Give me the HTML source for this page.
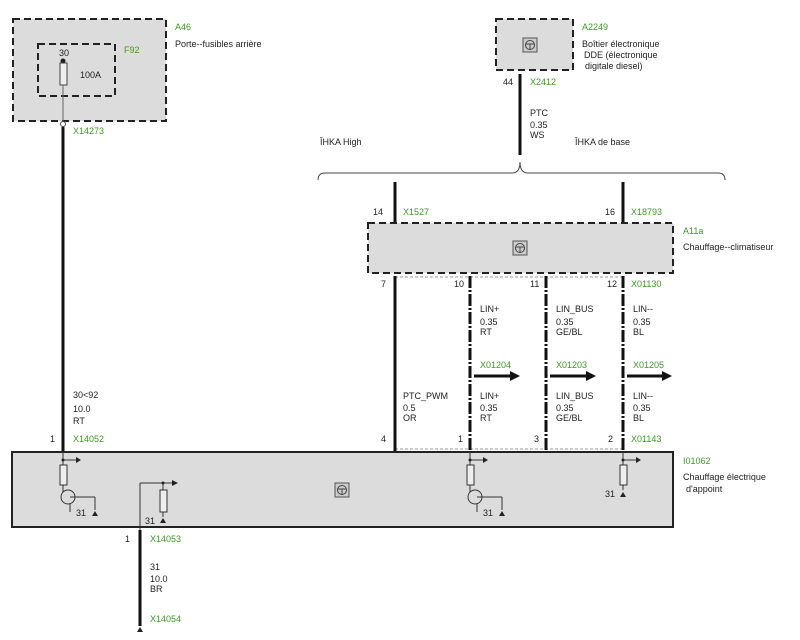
<!DOCTYPE html>
<html><head><meta charset="utf-8"><style>body{margin:0;background:#fff}svg{display:block}text{font-family:"Liberation Sans",sans-serif;font-size:9px;fill:#222}.g{fill:#3c9a22}</style></head><body>
<svg width="800" height="640" viewBox="0 0 800 640" xmlns="http://www.w3.org/2000/svg">
<defs>
<g id="ic"><rect x="-7" y="-7" width="14" height="14" fill="#ccc" stroke="#555" stroke-width="1"/><circle r="4.5" fill="none" stroke="#444"/><path d="M-4 -1 L4 -1 M0 -1 L0 4" stroke="#444" fill="none"/></g>
<g id="gnd"><path d="M-3 0 L3 0 L0 -5 Z" fill="#222"/></g>
</defs>
<!-- A46 -->
<rect x="13" y="19" width="153" height="102" fill="#dcdcdc" stroke="#222" stroke-width="2" stroke-dasharray="7,4"/>
<rect x="38" y="44" width="77" height="52" fill="none" stroke="#222" stroke-width="2" stroke-dasharray="7,4"/>
<circle cx="63" cy="61" r="2.5" fill="#222"/>
<rect x="60" y="63" width="7" height="22" fill="#eee" stroke="#444"/>
<line x1="63" y1="85" x2="63" y2="123" stroke="#666"/>
<circle cx="63" cy="124" r="2.5" fill="#fff" stroke="#444"/>
<text x="59" y="56">30</text><text x="80" y="78">100A</text>
<text x="124" y="53" class="g">F92</text>
<text x="175" y="30" class="g">A46</text><text x="175" y="47">Porte--fusibles arrière</text>
<line x1="63" y1="127" x2="63" y2="452" stroke="#111" stroke-width="3"/>
<text x="73" y="134" class="g">X14273</text>
<text x="73" y="398">30&lt;92</text><text x="73" y="412">10.0</text><text x="73" y="424">RT</text>
<text x="50" y="442">1</text><text x="73" y="442" class="g">X14052</text>
<!-- A2249 -->
<rect x="496" y="19" width="77" height="51" fill="#dcdcdc" stroke="#222" stroke-width="2" stroke-dasharray="7,4"/>
<use href="#ic" x="530" y="45"/>
<text x="582" y="30" class="g">A2249</text><text x="582" y="47">Boîtier électronique</text><text x="584" y="58">DDE (électronique</text><text x="585" y="69">digitale diesel)</text>
<line x1="520" y1="74" x2="520" y2="155" stroke="#111" stroke-width="3"/>
<text x="503" y="85">44</text><text x="530" y="85" class="g">X2412</text>
<text x="530" y="116">PTC</text><text x="530" y="128">0.35</text><text x="530" y="138">WS</text>
<text x="320" y="145">ÎHKA High</text><text x="575" y="145">ÎHKA de base</text>
<path d="M318 180 Q318 173 325 173 L512 173 Q520 173 520 162 Q520 173 528 173 L718 173 Q725 173 725 180" fill="none" stroke="#444"/>
<!-- A11a -->
<line x1="395" y1="182" x2="395" y2="223" stroke="#111" stroke-width="3"/>
<line x1="623" y1="182" x2="623" y2="223" stroke="#111" stroke-width="3"/>
<text x="373" y="215">14</text><text x="403" y="215" class="g">X1527</text>
<text x="605" y="215">16</text><text x="631" y="215" class="g">X18793</text>
<rect x="368" y="223" width="305" height="50" fill="#dcdcdc" stroke="#222" stroke-width="2" stroke-dasharray="7,4"/>
<use href="#ic" x="520" y="248"/>
<text x="683" y="234" class="g">A11a</text><text x="683" y="250">Chauffage--climatiseur</text>
<line x1="395" y1="277" x2="623" y2="277" stroke="#999" stroke-dasharray="3,2"/>
<line x1="395" y1="449" x2="623" y2="449" stroke="#999" stroke-dasharray="3,2"/>
<line x1="395" y1="276" x2="395" y2="451" stroke="#111" stroke-width="3"/>
<g stroke="#111" stroke-width="3" stroke-dasharray="12,2,2,2">
<line x1="470" y1="276" x2="470" y2="451"/><line x1="546" y1="276" x2="546" y2="451"/><line x1="623" y1="276" x2="623" y2="451"/></g>
<text x="381" y="287">7</text><text x="454" y="287">10</text><text x="530" y="287">11</text><text x="607" y="287">12</text><text x="631" y="287" class="g">X01130</text>
<text x="480" y="312">LIN+</text><text x="480" y="325">0.35</text><text x="480" y="335">RT</text>
<text x="556" y="312">LIN_BUS</text><text x="556" y="325">0.35</text><text x="556" y="335">GE/BL</text>
<text x="633" y="312">LIN--</text><text x="633" y="325">0.35</text><text x="633" y="335">BL</text>
<text x="480" y="368" class="g">X01204</text><text x="556" y="368" class="g">X01203</text><text x="633" y="368" class="g">X01205</text>
<g stroke="#111" stroke-width="3"><line x1="474" y1="376" x2="512" y2="376"/><line x1="550" y1="376" x2="588" y2="376"/><line x1="627" y1="376" x2="664" y2="376"/></g>
<g fill="#111"><path d="M510 371 L520 376 L510 381Z"/><path d="M586 371 L596 376 L586 381Z"/><path d="M662 371 L672 376 L662 381Z"/></g>
<text x="403" y="399">PTC_PWM</text><text x="403" y="411">0.5</text><text x="403" y="421">OR</text>
<text x="480" y="399">LIN+</text><text x="480" y="411">0.35</text><text x="480" y="421">RT</text>
<text x="556" y="399">LIN_BUS</text><text x="556" y="411">0.35</text><text x="556" y="421">GE/BL</text>
<text x="633" y="399">LIN--</text><text x="633" y="411">0.35</text><text x="633" y="421">BL</text>
<text x="381" y="442">4</text><text x="458" y="442">1</text><text x="534" y="442">3</text><text x="608" y="442">2</text><text x="631" y="442" class="g">X01143</text>
<!-- main box -->
<rect x="12" y="452" width="661" height="75" fill="#dcdcdc" stroke="#222" stroke-width="2"/>
<use href="#ic" x="342" y="490"/>
<text x="683" y="464" class="g">I01062</text><text x="683" y="480">Chauffage électrique</text><text x="686" y="492">d'appoint</text>
<g stroke="#333" fill="none">
<line x1="63" y1="452" x2="63" y2="465"/><line x1="63" y1="460" x2="76" y2="460"/>
<rect x="60" y="465" width="7" height="20" fill="#eee"/><line x1="63" y1="485" x2="63" y2="492"/>
<circle cx="68" cy="497" r="7"/><line x1="70" y1="497" x2="95" y2="497"/><line x1="95" y1="497" x2="95" y2="510"/><line x1="70" y1="504" x2="70" y2="512"/>
<line x1="140" y1="530" x2="140" y2="483"/><line x1="140" y1="483" x2="172" y2="483"/>
<line x1="163" y1="483" x2="163" y2="490"/><rect x="160" y="490" width="7" height="22" fill="#eee"/><line x1="163" y1="512" x2="163" y2="517"/>
<line x1="470" y1="452" x2="470" y2="465"/><line x1="470" y1="460" x2="483" y2="460"/>
<rect x="467" y="465" width="7" height="20" fill="#eee"/><line x1="470" y1="485" x2="470" y2="492"/>
<circle cx="475" cy="497" r="7"/><line x1="477" y1="497" x2="502" y2="497"/><line x1="502" y1="497" x2="502" y2="510"/><line x1="477" y1="504" x2="477" y2="512"/>
<line x1="623" y1="452" x2="623" y2="465"/><line x1="623" y1="460" x2="636" y2="460"/>
<rect x="620" y="465" width="7" height="20" fill="#eee"/><line x1="623" y1="485" x2="623" y2="490"/>
</g>
<g fill="#222"><circle cx="63" cy="460" r="1.5"/><circle cx="163" cy="483" r="1.5"/><circle cx="470" cy="460" r="1.5"/><circle cx="623" cy="460" r="1.5"/>
<path d="M76 457 L81 460 L76 463Z"/><path d="M483 457 L488 460 L483 463Z"/><path d="M636 457 L641 460 L636 463Z"/><path d="M172 480 L178 483 L172 486Z"/></g>
<use href="#gnd" x="95" y="516"/><use href="#gnd" x="163" y="523"/><use href="#gnd" x="502" y="516"/><use href="#gnd" x="623" y="497"/>
<text x="76" y="516">31</text><text x="145" y="524">31</text><text x="483" y="516">31</text><text x="605" y="497">31</text>
<line x1="140" y1="530" x2="140" y2="626" stroke="#111" stroke-width="3"/>
<use href="#gnd" x="140" y="632"/>
<text x="125" y="542">1</text><text x="150" y="542" class="g">X14053</text>
<text x="150" y="570">31</text><text x="150" y="582">10.0</text><text x="150" y="592">BR</text>
<text x="150" y="622" class="g">X14054</text>
</svg>
</body></html>
